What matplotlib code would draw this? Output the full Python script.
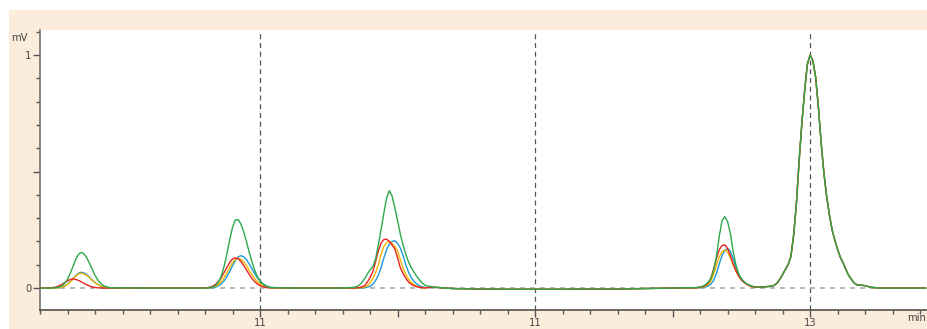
import matplotlib
matplotlib.use("Agg")
import matplotlib.pyplot as plt
from matplotlib.patches import Rectangle
from matplotlib.ticker import MultipleLocator

plt.rcParams['font.family'] = ['Liberation Sans Narrow', 'DejaVu Sans']
plt.rcParams['font.stretch'] = 'condensed'

# sample times (min), split by region
t_start = [10.20, 10.23]
t_p1 = [10.24, 10.25, 10.26, 10.27, 10.28, 10.29, 10.30, 10.31, 10.32, 10.33, 10.34, 10.35,
        10.36, 10.37, 10.38, 10.39, 10.40, 10.41, 10.42, 10.43, 10.44, 10.45, 10.46]
t_b1 = [10.50, 10.60, 10.70, 10.76]
t_p2 = [10.80, 10.81, 10.82, 10.83, 10.84, 10.85, 10.86, 10.87, 10.88, 10.89, 10.90, 10.91,
        10.92, 10.93, 10.94, 10.95, 10.96, 10.97, 10.98, 10.99, 11.00, 11.01, 11.02, 11.03, 11.04]
t_b2 = [11.08, 11.15, 11.22, 11.28, 11.31]
t_p3 = [11.34, 11.35, 11.36, 11.37, 11.38, 11.39, 11.40, 11.41, 11.42, 11.43, 11.44, 11.45, 11.46,
        11.47, 11.48, 11.49, 11.50, 11.51, 11.52, 11.53, 11.54, 11.55, 11.56, 11.57, 11.58, 11.59, 11.60]
t_b3 = [11.63, 11.70, 11.80, 11.90, 12.00, 12.10, 12.20, 12.30, 12.40, 12.48, 12.54]
t_p4 = [12.58, 12.59, 12.60, 12.61, 12.62, 12.63, 12.64, 12.65, 12.66, 12.67, 12.68, 12.69,
        12.70, 12.71, 12.72, 12.73, 12.74, 12.75, 12.76, 12.77, 12.78, 12.79, 12.80]
t_b4 = [12.82, 12.84]
t_p5 = [12.86, 12.87, 12.88, 12.89, 12.90, 12.91, 12.92, 12.93, 12.94, 12.95, 12.96, 12.97,
        12.98, 12.99, 13.00, 13.01, 13.02, 13.03, 13.04, 13.05, 13.06, 13.07, 13.08, 13.09,
        13.10, 13.11, 13.12, 13.13, 13.14, 13.15, 13.16, 13.17, 13.18, 13.19, 13.20]
t_b5 = [13.22, 13.25, 13.30, 13.35, 13.42]

# baseline parts (shared by all traces)
base0 = [0.0, 0.0]
base1 = [0.001, 0.0, 0.0, 0.0]
base2 = [0.001, 0.0, 0.0, 0.0, 0.001]
base3 = [0.004, -0.002, -0.004, -0.005, -0.005, -0.005, -0.004, -0.004, -0.002, 0.0, 0.001]
base4 = [0.005, 0.006]
base5 = [0.004, 0.0, 0.0, 0.0, 0.0]

# last peak, same for all traces
peak5 = [0.008, 0.012, 0.022, 0.038, 0.058, 0.080, 0.100, 0.135, 0.225, 0.360, 0.545, 0.707,
         0.845, 0.960, 1.000, 0.975, 0.905, 0.778, 0.625, 0.495, 0.395, 0.315, 0.250, 0.205,
         0.165, 0.132, 0.108, 0.080, 0.055, 0.038, 0.022, 0.014, 0.012, 0.012, 0.010]

green_p1 = [0.000, 0.001, 0.002, 0.004, 0.010, 0.021, 0.038, 0.063, 0.093, 0.123, 0.145, 0.153,
            0.147, 0.130, 0.106, 0.080, 0.055, 0.035, 0.021, 0.011, 0.006, 0.003, 0.001]
yellow_p1 = [0.000, 0.000, 0.001, 0.002, 0.004, 0.009, 0.016, 0.026, 0.039, 0.051, 0.061, 0.064,
             0.061, 0.054, 0.044, 0.033, 0.023, 0.015, 0.009, 0.005, 0.002, 0.001, 0.000]
blue_p1 = [0.000, 0.000, 0.001, 0.002, 0.004, 0.009, 0.017, 0.028, 0.041, 0.054, 0.064, 0.068,
           0.065, 0.058, 0.047, 0.035, 0.024, 0.016, 0.009, 0.005, 0.003, 0.001, 0.000]
red_p1 = [0.001, 0.003, 0.005, 0.010, 0.016, 0.024, 0.031, 0.037, 0.039, 0.037, 0.033, 0.027,
          0.020, 0.014, 0.009, 0.005, 0.003, 0.001, 0.001, 0.000, 0.000, 0.000, 0.000]

green_p2 = [0.000, 0.001, 0.002, 0.005, 0.013, 0.028, 0.055, 0.096, 0.150, 0.209, 0.261, 0.292,
            0.294, 0.276, 0.244, 0.202, 0.157, 0.115, 0.079, 0.051, 0.031, 0.018, 0.009, 0.005, 0.002]
red_p2 = [0.001, 0.002, 0.005, 0.009, 0.018, 0.030, 0.047, 0.068, 0.090, 0.110, 0.125, 0.130,
          0.126, 0.115, 0.098, 0.079, 0.060, 0.042, 0.028, 0.018, 0.010, 0.006, 0.003, 0.001, 0.001]
yellow_p2 = [0.000, 0.001, 0.002, 0.005, 0.009, 0.017, 0.029, 0.046, 0.067, 0.089, 0.109, 0.123,
             0.128, 0.124, 0.113, 0.097, 0.078, 0.059, 0.042, 0.028, 0.017, 0.010, 0.006, 0.003, 0.001]
blue_p2 = [0.000, 0.000, 0.001, 0.002, 0.005, 0.010, 0.019, 0.032, 0.050, 0.072, 0.096, 0.118,
           0.133, 0.139, 0.135, 0.123, 0.105, 0.084, 0.064, 0.045, 0.030, 0.019, 0.011, 0.006, 0.003]

green_p3 = [0.003, 0.006, 0.012, 0.024, 0.040, 0.060, 0.078, 0.092, 0.125, 0.185, 0.250, 0.320, 0.385,
            0.418, 0.395, 0.345, 0.290, 0.232, 0.185, 0.145, 0.112, 0.088, 0.068, 0.050, 0.034, 0.022, 0.012]
red_p3 = [0.000, 0.001, 0.002, 0.005, 0.010, 0.025, 0.045, 0.070, 0.112, 0.160, 0.193, 0.208, 0.210,
          0.200, 0.185, 0.168, 0.130, 0.088, 0.062, 0.042, 0.026, 0.016, 0.010, 0.006, 0.003, 0.002, 0.001]
yellow_p3 = [0.000, 0.000, 0.001, 0.002, 0.005, 0.010, 0.022, 0.040, 0.065, 0.100, 0.145, 0.178, 0.195,
             0.200, 0.192, 0.178, 0.160, 0.122, 0.085, 0.058, 0.038, 0.024, 0.014, 0.008, 0.004, 0.002, 0.001]
blue_p3 = [0.000, 0.000, 0.000, 0.001, 0.002, 0.004, 0.008, 0.016, 0.032, 0.055, 0.088, 0.128, 0.165,
           0.188, 0.200, 0.203, 0.192, 0.172, 0.140, 0.100, 0.068, 0.044, 0.028, 0.017, 0.010, 0.005, 0.002]

green_p4 = [0.002, 0.003, 0.005, 0.008, 0.015, 0.026, 0.043, 0.080, 0.140, 0.225, 0.290, 0.306,
            0.285, 0.235, 0.160, 0.100, 0.062, 0.040, 0.027, 0.018, 0.012, 0.008, 0.005]
red_p4 = [0.001, 0.002, 0.004, 0.007, 0.012, 0.022, 0.045, 0.085, 0.130, 0.165, 0.183, 0.185,
          0.170, 0.140, 0.105, 0.075, 0.052, 0.035, 0.024, 0.016, 0.010, 0.006, 0.004]
yellow_p4 = [0.001, 0.001, 0.003, 0.005, 0.009, 0.016, 0.032, 0.062, 0.100, 0.135, 0.157, 0.163,
             0.155, 0.130, 0.100, 0.073, 0.052, 0.036, 0.024, 0.016, 0.010, 0.006, 0.004]
blue_p4 = [0.000, 0.001, 0.002, 0.003, 0.005, 0.009, 0.018, 0.035, 0.065, 0.105, 0.140, 0.162,
           0.170, 0.158, 0.128, 0.090, 0.060, 0.040, 0.026, 0.017, 0.011, 0.007, 0.004]

time = t_start + t_p1 + t_b1 + t_p2 + t_b2 + t_p3 + t_b3 + t_p4 + t_b4 + t_p5 + t_b5


def trace(p1, p2, p3, p4):
    return base0 + p1 + base1 + p2 + base2 + p3 + base3 + p4 + base4 + peak5 + base5


green = trace(green_p1, green_p2, green_p3, green_p4)
red = trace(red_p1, red_p2, red_p3, red_p4)
yellow = trace(yellow_p1, yellow_p2, yellow_p3, yellow_p4)
blue = trace(blue_p1, blue_p2, blue_p3, blue_p4)

x_ticks = [11, 11.5, 12, 12.5, 13]
x_labels = ['11', '', '11', '', '13']
y_ticks = [0, 0.5, 1]
y_labels = ['0', '', '1']

fig = plt.figure(figsize=(9.27, 3.29), dpi=100)
fig.patch.set_facecolor('white')
bg = Rectangle((9 / 927, 0), 1, 319 / 329, transform=fig.transFigure,
               facecolor='#fcecdb', edgecolor='none', zorder=-10)
fig.patches.append(bg)
ax = fig.add_axes([40 / 927, 19 / 329, 887 / 927, 280 / 329])
ax.set_zorder(1)
ax.set_facecolor('white')

ax.plot(time, blue, color='#1b9ad6', lw=1.0)
ax.plot(time, yellow, color='#f6b400', lw=1.0)
ax.plot(time, red, color='#e52421', lw=1.0)
ax.plot(time, green, color='#2ea84a', lw=1.0)

for xv in [11, 12, 13]:
    ax.axvline(xv, color='#555555', lw=0.9, ls=(0, (4, 3)), zorder=0)
ax.axhline(0, color='#aaaaaa', lw=1.2, ls=(0, (3, 3)), zorder=0)

ax.set_xlim(10.2, 13.425)
ax.set_ylim(-0.094, 1.107)

ax.spines['top'].set_visible(False)
ax.spines['right'].set_visible(False)
ax.spines['left'].set_color('#666666')
ax.spines['bottom'].set_color('#444444')
ax.spines['left'].set_linewidth(1.1)
ax.spines['bottom'].set_linewidth(1.1)

ax.set_xticks(x_ticks)
ax.set_xticklabels(x_labels)
ax.set_yticks(y_ticks)
ax.set_yticklabels(y_labels)
ax.xaxis.set_minor_locator(MultipleLocator(0.1))
ax.yaxis.set_minor_locator(MultipleLocator(0.1))
ax.tick_params(which='major', length=5, width=1, color='#555555', labelsize=8,
               labelcolor='#444444', pad=1)
ax.tick_params(which='minor', length=3, width=1, color='#555555')

ax.text(-0.0135, 0.99, 'mV', transform=ax.transAxes, ha='right', va='top', fontsize=8,
        color='#444444')
ax.text(13.422, -0.13, 'min', ha='right', va='center', fontsize=8, color='#444444',
        clip_on=False)

fig.savefig('out.png', dpi=100)
